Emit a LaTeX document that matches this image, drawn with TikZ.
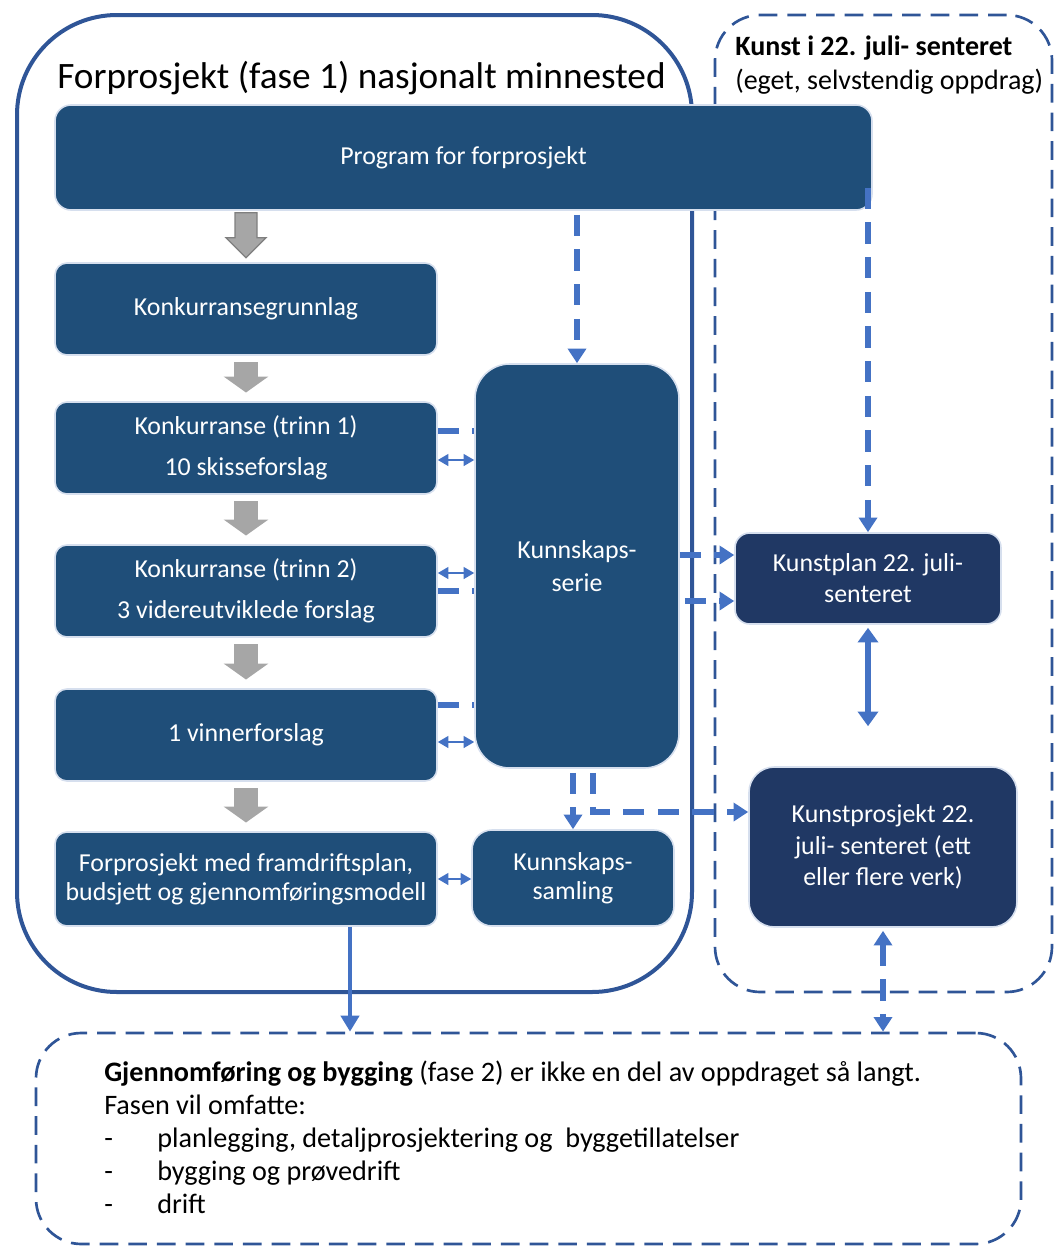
\documentclass[tikz,border=0pt]{standalone}
\usepackage{fontspec}
\setmainfont{Carlito}
\usetikzlibrary{arrows.meta,calc}

\definecolor{boxblue}{HTML}{1F4E79}
\definecolor{kunstblue}{HTML}{203864}
\definecolor{linkblue}{HTML}{4472C4}
\definecolor{frameblue}{HTML}{2F5597}
\definecolor{blockgray}{HTML}{A6A6A6}
\definecolor{blockedge}{HTML}{7F7F7F}
\definecolor{boxedge}{HTML}{D6DFEE}

\newcommand{\pxu}{0.75pt}
\newcommand{\boxfont}{\fontsize{19.4}{23.4}\selectfont}

\tikzset{
    stepbox/.style={rectangle, rounded corners=9pt, fill=boxblue, draw=boxedge, line width=1.2pt, text=white, align=center, font=\boxfont, inner sep=0pt},
    kunstbox/.style={stepbox, fill=kunstblue},
    fasebox/.style={rectangle, draw=frameblue, line width=3pt, rounded corners=75pt, inner sep=0pt},
    dashframe/.style={rectangle, draw=frameblue, line width=2pt, dash pattern=on 14pt off 7.5pt, rounded corners=34pt, inner sep=0pt},
    blockarrow/.style={draw=blockgray, line width=18pt, -{Triangle[width=33pt,length=12pt]}, shorten <=5pt, shorten >=6.5pt},
    dashlink/.style={draw=linkblue, line width=3.8pt, dash pattern=on 16pt off 10pt},
    dasharrow/.style={dashlink, -{Triangle[width=13.5pt,length=11pt]}},
    duplex/.style={draw=linkblue, line width=1.2pt, >={Triangle[width=9pt,length=8pt]}, <->},
    thickduplex/.style={draw=linkblue, line width=3.8pt, >={Triangle[width=15pt,length=11pt]}, <->},
    solidarrow/.style={draw=linkblue, line width=3pt, -{Triangle[width=13.5pt,length=12pt]}}
}

\begin{document}
\begin{tikzpicture}[x=\pxu, y=-\pxu]
\useasboundingbox (0,0) rectangle (1059,1246);

% rammer
\node[fasebox, minimum width=675*\pxu, minimum height=977*\pxu] (fase1) at (354.5,503.5) {};
\node[dashframe, minimum width=337*\pxu, minimum height=977*\pxu] (kunst) at (883.5,503.5) {};
\node[dashframe, minimum width=985*\pxu, minimum height=211*\pxu] (fase2) at (528.5,1138.5) {};

\node[anchor=base west, inner sep=0pt, font=\fontsize{27.95}{33}\selectfont] (tittel) at (57,88) {Forprosjekt (fase 1) nasjonalt minnested};
\node[anchor=north west, inner sep=0pt, align=left, font=\fontsize{21}{25.5}\selectfont] (kunsttittel) at (735,36) {\textbf{Kunst i 22. juli- senteret}\\(eget, selvstendig oppdrag)};
\node[anchor=north west, inner sep=0pt, align=left, font=\fontsize{21.15}{24.75}\selectfont] (fase2tekst) at (104,1061) {\textbf{Gjennomføring og bygging} (fase 2) er ikke en del av oppdraget så langt.\\
Fasen vil omfatte:\\
\makebox[39.75pt][l]{-}planlegging, detaljprosjektering og~ byggetillatelser\\
\makebox[39.75pt][l]{-}bygging og prøvedrift\\
\makebox[39.75pt][l]{-}drift};

% bokser
\node[stepbox, rounded corners=12pt, minimum width=817*\pxu, minimum height=105*\pxu] (prog) at (463.5,157.5) {Program for forprosjekt};
\node[stepbox, minimum width=382*\pxu, minimum height=92*\pxu] (kg) at (246,309) {Konkurransegrunnlag};
\node[stepbox, minimum width=382*\pxu, minimum height=92*\pxu] (k1) at (246,448) {Konkurranse (trinn 1)\\[7pt]10 skisseforslag};
\node[stepbox, minimum width=382*\pxu, minimum height=92*\pxu] (k2) at (246,591) {Konkurranse (trinn 2)\\[7pt]3 videreutviklede forslag};
\node[stepbox, minimum width=382*\pxu, minimum height=92*\pxu] (vinner) at (246,735) {1 vinnerforslag};
\node[stepbox, minimum width=382*\pxu, minimum height=94*\pxu] (forp) at (246,879) {Forprosjekt med framdriftsplan,\\[-2pt]budsjett og gjennomføringsmodell};
\node[stepbox, rounded corners=26pt, minimum width=204*\pxu, minimum height=404*\pxu] (kserie) at (577,566) {Kunnskaps-\\[1.8pt]serie};
\node[stepbox, rounded corners=15pt, minimum width=202*\pxu, minimum height=96*\pxu] (ksaml) at (573,878) {Kunnskaps-\\[-2pt]samling};
\node[kunstbox, rounded corners=11pt, minimum width=266*\pxu, minimum height=91*\pxu] (kplan) at (868,578.5) {Kunstplan 22. juli-\\senteret};
\node[kunstbox, rounded corners=19pt, minimum width=268*\pxu, minimum height=160*\pxu] (kprosj) at (883,847) {Kunstprosjekt 22.\\juli- senteret (ett\\eller flere verk)};

% grå piler
\draw[fill=blockgray, draw=blockedge, line width=1pt] ($(prog.south -| kg.north)+(-11,2)$) -- ++(22,0) -- ++(0,25) -- ++(9,0) -- ++(-20,20) -- ++(-20,-20) -- ++(9,0) -- cycle;
\draw[blockarrow] (kg.south) -- (k1.north);
\draw[blockarrow] (k1.south) -- (k2.north);
\draw[blockarrow] (k2.south) -- (vinner.north);
\draw[blockarrow] (vinner.south) -- (forp.north);

% kunnskapsserie
\draw[dasharrow, shorten <=4*\pxu] (kserie.north |- prog.south) -- (kserie.north);
\draw[dashlink] ($(k1.east)+(0,-17)$) -- ($(k1.east -| kserie.west)+(0,-17)$);
\draw[duplex] ($(k1.east)+(0,12)$) -- ($(k1.east -| kserie.west)+(0,12)$);
\draw[duplex] ($(k2.east)+(0,-18)$) -- ($(k2.east -| kserie.west)+(0,-18)$);
\draw[dashlink] (k2.east) -- (k2.east -| kserie.west);
\draw[dashlink] ($(vinner.east)+(0,-30)$) -- ($(vinner.east -| kserie.west)+(0,-30)$);
\draw[duplex] ($(vinner.east)+(0,7)$) -- ($(vinner.east -| kserie.west)+(0,7)$);
\draw[duplex] (forp.east) -- (forp.east -| ksaml.west);

\draw[dasharrow] ($(kserie.east)+(0,-11)$) -- ($(kserie.east -| kplan.west)+(0,-11)$);
\draw[dasharrow] ($(kserie.east)+(5,35)$) -- ($(kserie.east -| kplan.west)+(0,35)$);
\draw[dasharrow, shorten <=4*\pxu] (kserie.south -| ksaml.north) -- (ksaml.north);
\draw[dasharrow, shorten <=4*\pxu] ($(kserie.south)+(16,0)$) |- ($(kprosj.west)+(0,-35)$);

% kunst
\draw[dasharrow] ($(kplan.north |- prog.south)+(0,-23)$) -- (kplan.north);
\draw[thickduplex, shorten <=3*\pxu, shorten >=40*\pxu] (kplan.south) -- (kplan.south |- kprosj.north);
\draw[dashlink, <->, >={Triangle[width=13.5pt,length=11pt]}, shorten <=3*\pxu] (kprosj.south) -- (kprosj.south |- fase2.north);

% fase 2
\draw[solidarrow] ($(forp.south)+(104,0)$) -- ($(forp.south |- fase2.north)+(104,0)$);
\end{tikzpicture}
\end{document}
